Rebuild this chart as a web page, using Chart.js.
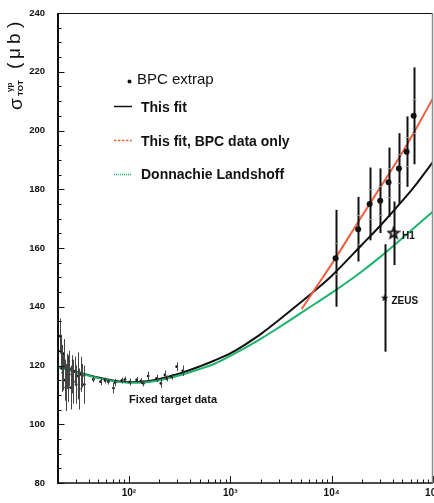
<!DOCTYPE html>
<html>
<head>
<meta charset="utf-8">
<script src="https://cdn.jsdelivr.net/npm/chart.js@4.4.1/dist/chart.umd.min.js"></script>
<style>
  html, body { margin: 0; padding: 0; background: #fff; }
  #c { display: block; }
</style>
</head>
<body>
<canvas id="c" width="434" height="503"></canvas>
<script>
// Energies (GeV^2) at which the fitted curves are tabulated
const curveW = [20, 30, 50, 70, 100, 150, 200, 300, 500, 700, 1000, 2000, 3000, 5000, 7000, 10000, 20000, 30000, 50000, 70000, 100000];
// "This fit" (all data)
const thisFit = [119.7, 118.0, 115.9, 114.9, 114.3, 114.6, 115.4, 117.0, 119.7, 121.7, 124.1, 130.7, 135.4, 141.6, 145.8, 150.5, 161.2, 167.5, 176.1, 182.2, 189.3];
// Donnachie-Landshoff
const dlFit = [119.4, 117.7, 115.7, 114.7, 114.1, 114.3, 115.0, 116.4, 118.8, 120.6, 123.3, 129.1, 132.9, 137.9, 141.2, 144.7, 152.1, 156.9, 163.4, 167.8, 172.4];
// "This fit, BPC data only"
const bpcFitW = [5060, 7000, 10000, 20000, 30000, 50000, 70000, 100000];
const bpcFit = [139.2, 146.5, 154.5, 171.0, 180.5, 192.6, 201.4, 211.0];

// BPC extrapolated cross sections (total and statistical errors)
const bpcW = [10950, 18270, 23700, 30150, 36450, 46100, 54950, 64450];
const bpcSigma = [156.5, 166.4, 175.0, 176.1, 182.4, 187.1, 192.8, 205.0];
const bpcErr = [16.5, 11.0, 12.4, 11.0, 11.8, 12.0, 12.0, 16.5];
const bpcStatErr = [5.3, 5.0, 5.0, 5.0, 5.0, 5.0, 5.0, 5.7];

// HERA measurements
const h1W = [40830];
const h1Sigma = [165.0];
const h1Err = [10.8];
const zeusW = [33340];
const zeusSigma = [143.0];
const zeusErr = [18.3];

// Fixed target data
const fixedW = [21.0, 21.3, 21.8, 22.3, 22.8, 23.3, 23.9, 24.5, 25.2, 25.9, 26.6, 27.4, 28.3, 29.2, 30.2, 31.2, 32.3, 33.5, 34.8, 36.3,
                44.6, 52.6, 58.3, 62.8, 70.5, 73.3, 85.4, 91.5, 102.5, 119.4, 131.6, 138.7, 155, 188, 207, 227, 236, 264, 296, 340];
const fixedSigma = [130.0, 125.0, 119.0, 117.5, 124.0, 115.0, 112.5, 118.0, 115.5, 119.0, 112.5, 117.0, 114.5, 118.0, 113.5, 116.5, 112.0, 117.0, 116.5, 113.5,
                    115.3, 114.5, 114.9, 114.5, 112.3, 114.2, 114.9, 115.2, 114.4, 115.1, 114.7, 113.9, 116.4, 115.6, 113.9, 116.8, 115.6, 116.2, 119.6, 118.2];
const fixedErr = [6.0, 5.5, 8.0, 6.0, 5.0, 7.0, 8.0, 6.0, 8.0, 6.0, 7.5, 6.5, 7.5, 5.0, 6.5, 8.0, 7.0, 6.0, 4.0, 6.5,
                  1.0, 1.2, 1.0, 1.0, 1.8, 1.2, 1.0, 1.0, 1.2, 1.0, 1.0, 1.0, 1.5, 1.2, 1.5, 1.5, 1.0, 1.0, 1.5, 1.8];

// Axis ticks
const xTickValues = [100, 1000, 10000, 100000];
const xTickLabels = ['10\u00B2', '10\u00B3', '10\u2074', '10\u2075'];
const yTickValues = [80, 100, 120, 140, 160, 180, 200, 220, 240];

const RED = '#f0603f';
const GREEN = '#1db36c';
const INK = '#111111';
const FONT = '"Liberation Sans", Arial, Helvetica, sans-serif';

const pts = (xs, ys) => xs.map((v, i) => ({ x: v, y: ys[i] }));

function starImage(size, R, filled) {
  const c = document.createElement('canvas');
  c.width = c.height = size;
  const g = c.getContext('2d');
  const cx = size / 2, cy = size / 2, r = R * 0.42;
  g.beginPath();
  for (let k = 0; k < 10; k++) {
    const a = -Math.PI / 2 + k * Math.PI / 5;
    const rad = k % 2 ? r : R;
    g.lineTo(cx + rad * Math.cos(a), cy + rad * Math.sin(a));
  }
  g.closePath();
  if (filled) { g.fillStyle = INK; g.fill(); }
  else { g.lineWidth = 1.8; g.strokeStyle = INK; g.lineJoin = 'miter'; g.stroke(); }
  return c;
}

// vertical error bars taken from each dataset's "errors" list,
// with small marks at the inner (statistical) error when given
const errorBars = {
  id: 'errorBars',
  afterDatasetsDraw(chart) {
    const { ctx, scales: { x, y } } = chart;
    chart.data.datasets.forEach(ds => {
      if (!ds.errors) return;
      ctx.save();
      ds.data.forEach((p, j) => {
        const px = Math.round(x.getPixelForValue(p.x)) + 0.5;
        const e = ds.errors[j];
        ctx.strokeStyle = ds.errorColor;
        ctx.lineWidth = ds.errorWidth;
        ctx.beginPath();
        ctx.moveTo(px, y.getPixelForValue(p.y - e));
        ctx.lineTo(px, y.getPixelForValue(p.y + e));
        ctx.stroke();
        if (ds.innerErrors) {
          const s = ds.innerErrors[j];
          ctx.strokeStyle = '#9a9a9a';
          ctx.lineWidth = 1;
          [p.y - s, p.y + s].forEach(v => {
            const py = Math.round(y.getPixelForValue(v)) + 0.5;
            ctx.beginPath(); ctx.moveTo(px - 2, py); ctx.lineTo(px + 2, py); ctx.stroke();
          });
        }
      });
      ctx.restore();
    });
  }
};

// frame, inward tick marks, axis title, legend and text labels
const decorations = {
  id: 'decorations',
  afterDraw(chart) {
    const { ctx, chartArea: a, scales: { x, y } } = chart;
    ctx.save();
    // inward ticks on the left axis
    ctx.strokeStyle = INK;
    ctx.lineWidth = 1;
    for (let v = 80; v <= 240; v += 5) {
      const py = Math.round(y.getPixelForValue(v)) + 0.5;
      const len = v % 20 === 0 ? 6.5 : 3.5;
      ctx.beginPath(); ctx.moveTo(a.left, py); ctx.lineTo(a.left + len, py); ctx.stroke();
    }
    // inward ticks on the bottom axis
    for (let dec = 10; dec <= 100000; dec *= 10) {
      for (let m = 1; m <= 9; m++) {
        const w = m * dec;
        if (w < 20 || w > 100000) continue;
        const px = Math.round(x.getPixelForValue(w)) + 0.5;
        const len = m === 1 ? 7 : 3.5;
        ctx.beginPath(); ctx.moveTo(px, a.bottom); ctx.lineTo(px, a.bottom - len); ctx.stroke();
      }
    }
    // frame
    ctx.strokeStyle = INK;
    ctx.lineWidth = 1;
    ctx.beginPath(); ctx.moveTo(a.left, a.top + 0.5); ctx.lineTo(a.right, a.top + 0.5); ctx.stroke();
    ctx.lineWidth = 1.5;
    ctx.beginPath(); ctx.moveTo(a.left - 1, a.bottom); ctx.lineTo(a.right, a.bottom); ctx.stroke();
    ctx.lineWidth = 2;
    ctx.beginPath(); ctx.moveTo(a.left, a.top); ctx.lineTo(a.left, a.bottom + 1); ctx.stroke();
    ctx.strokeStyle = '#8a8a8a';
    ctx.lineWidth = 1.5;
    ctx.beginPath(); ctx.moveTo(a.right - 0.5, a.top); ctx.lineTo(a.right - 0.5, a.bottom); ctx.stroke();

    // y axis title: sigma_TOT^gamma p (mu b)
    ctx.fillStyle = INK;
    ctx.translate(22, 112);
    ctx.rotate(-Math.PI / 2);
    ctx.textBaseline = 'alphabetic';
    ctx.textAlign = 'left';
    ctx.font = '19px ' + FONT;
    ctx.fillText('\u03C3', 2, 0);
    ctx.font = 'bold 8px ' + FONT;
    ctx.fillText('TOT', 16, 1);
    ctx.fillText('\u03B3p', 20, -10);
    ctx.font = '19px ' + FONT;
    ctx.fillText('(', 43, -2);
    ctx.fillText('\u03BC', 53, -2);
    ctx.fillText('b', 68, -2);
    ctx.fillText(')', 84, -2);
    ctx.setTransform(1, 0, 0, 1, 0, 0);

    // legend
    ctx.textAlign = 'left';
    ctx.textBaseline = 'alphabetic';
    ctx.fillStyle = INK;
    ctx.beginPath(); ctx.arc(129.5, 81.5, 2, 0, Math.PI * 2); ctx.fill();
    ctx.font = '15px ' + FONT;
    ctx.fillText('BPC extrap', 137, 84);
    ctx.font = 'bold 14px ' + FONT;
    ctx.fillText('This fit', 141, 112);
    ctx.fillText('This fit, BPC data only', 141, 146);
    ctx.fillText('Donnachie Landshoff', 141, 179);
    ctx.lineWidth = 1.5;
    ctx.strokeStyle = INK;
    ctx.beginPath(); ctx.moveTo(114, 106.5); ctx.lineTo(132, 106.5); ctx.stroke();
    ctx.strokeStyle = RED;
    ctx.setLineDash([2.5, 1.5]);
    ctx.beginPath(); ctx.moveTo(114, 140.5); ctx.lineTo(132, 140.5); ctx.stroke();
    ctx.strokeStyle = GREEN;
    ctx.setLineDash([1, 1]);
    ctx.beginPath(); ctx.moveTo(114, 174.5); ctx.lineTo(132, 174.5); ctx.stroke();
    ctx.setLineDash([]);

    // labels next to the measurements
    ctx.font = 'bold 11px ' + FONT;
    ctx.fillText('Fixed target data', 129, 403);
    ctx.textBaseline = 'middle';
    ctx.font = 'bold 10px ' + FONT;
    ctx.fillText('H1', 402, 236.5);
    ctx.fillText('ZEUS', 391.5, 301.5);
    ctx.restore();
  }
};

const ctx = document.getElementById('c').getContext('2d');
new Chart(ctx, {
  type: 'scatter',
  data: {
    datasets: [
      { label: 'BPC extrap', data: pts(bpcW, bpcSigma), errors: bpcErr, innerErrors: bpcStatErr, errorColor: INK, errorWidth: 2,
        pointRadius: 3, pointBackgroundColor: INK, pointBorderColor: INK, pointBorderWidth: 0, showLine: false },
      { label: 'H1', data: pts(h1W, h1Sigma), errors: h1Err, errorColor: INK, errorWidth: 2,
        pointStyle: starImage(14, 5.5, false), showLine: false },
      { label: 'ZEUS', data: pts(zeusW, zeusSigma), errors: zeusErr, errorColor: INK, errorWidth: 2,
        pointStyle: starImage(10, 4, true), showLine: false },
      { label: 'Fixed target data', data: pts(fixedW, fixedSigma), errors: fixedErr, errorColor: '#444', errorWidth: 1,
        pointRadius: 1.4, pointBackgroundColor: INK, pointBorderWidth: 0, showLine: false },
      { label: 'Donnachie Landshoff', data: pts(curveW, dlFit), showLine: true, borderColor: GREEN, borderWidth: 2,
        pointRadius: 0, tension: 0.4, cubicInterpolationMode: 'monotone' },
      { label: 'This fit, BPC data only', data: pts(bpcFitW, bpcFit), showLine: true, borderColor: RED, borderWidth: 2,
        pointRadius: 0, tension: 0.4, cubicInterpolationMode: 'monotone' },
      { label: 'This fit', data: pts(curveW, thisFit), showLine: true, borderColor: INK, borderWidth: 2,
        pointRadius: 0, tension: 0.4, cubicInterpolationMode: 'monotone' }
    ]
  },
  options: {
    responsive: false,
    animation: false,
    devicePixelRatio: 1,
    layout: { autoPadding: false, padding: { left: 0, right: 1, top: 13, bottom: 0 } },
    plugins: { legend: { display: false }, tooltip: { enabled: false } },
    scales: {
      x: {
        type: 'logarithmic', min: 20, max: 100000,
        grid: { display: false, drawTicks: false }, border: { display: false },
        afterBuildTicks: s => { s.ticks = xTickValues.map(v => ({ value: v })); },
        afterFit: s => { s.height = 20; s.paddingLeft = 0; s.paddingRight = 0; },
        ticks: {
          autoSkip: false, maxRotation: 0, padding: 4, color: INK,
          font: { family: FONT, size: 10, weight: 'bold' },
          callback: (v) => xTickLabels[xTickValues.indexOf(v)] || ''
        }
      },
      y: {
        type: 'linear', min: 80, max: 240,
        grid: { display: false, drawTicks: false }, border: { display: false },
        afterBuildTicks: s => { s.ticks = yTickValues.map(v => ({ value: v })); },
        afterFit: s => { s.width = 58; s.paddingTop = 0; s.paddingBottom = 0; },
        ticks: {
          autoSkip: false, padding: 13, color: INK,
          font: { family: FONT, size: 9.5, weight: 'bold' }
        }
      }
    }
  },
  plugins: [errorBars, decorations]
});
</script>
</body>
</html>
